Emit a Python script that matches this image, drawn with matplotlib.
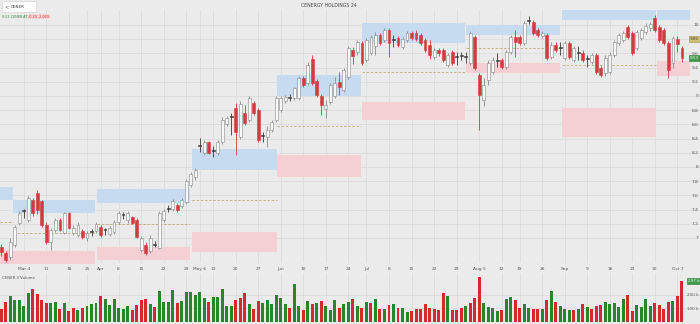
import numpy as np
import matplotlib.pyplot as plt
from matplotlib.patches import Rectangle

# CENERGY HOLDINGS daily candles, Feb 26 - Oct 8
opens = [6.87, 6.79, 6.73, 6.90, 7.21, 7.38, 7.25, 7.53, 7.63, 7.52,
         7.18, 6.94, 7.11, 7.25, 7.07, 7.35, 7.07, 7.04, 7.10, 7.00,
         7.08, 7.10, 7.15, 7.11, 7.06, 7.08, 7.23, 7.32, 7.26, 7.30,
         7.25, 6.83, 6.90, 6.82, 6.92, 6.86, 7.25, 7.41, 7.41, 7.46,
         7.45, 7.51, 7.75, 7.86, 8.31, 8.20, 8.35, 8.22, 8.20, 8.35,
         8.61, 8.71, 8.83, 8.42, 8.76, 8.66, 8.90, 8.80, 8.44, 8.42,
         8.52, 8.66, 8.80, 8.93, 8.99, 8.97, 8.97, 9.25, 9.18, 9.52,
         9.21, 9.00, 8.82, 8.92, 9.00, 9.20, 9.09, 9.27, 9.64, 9.62,
         9.75, 9.51, 9.61, 9.70, 9.86, 9.79, 9.93, 9.79, 9.82, 9.69,
         9.79, 9.89, 9.89, 9.86, 9.79, 9.72, 9.55, 9.64, 9.65, 9.44,
         9.62, 9.55, 9.56, 9.55, 9.47, 9.83, 9.30, 8.94, 9.23, 9.34,
         9.49, 9.51, 9.41, 9.62, 9.83, 9.83, 9.75, 10.06, 10.04, 9.93,
         9.85, 9.86, 9.55, 9.72, 9.68, 9.54, 9.75, 9.51, 9.60, 9.61,
         9.52, 9.48, 9.58, 9.39, 9.32, 9.34, 9.58, 9.75, 9.79, 9.97,
         9.89, 9.68, 9.82, 9.90, 9.95, 10.10, 9.97, 9.93, 9.75, 9.46,
         9.80, 9.68]
highs = [6.92, 6.82, 7.00, 7.18, 7.38, 7.41, 7.59, 7.56, 7.68, 7.54,
         7.22, 7.14, 7.28, 7.28, 7.37, 7.37, 7.18, 7.22, 7.13, 7.10,
         7.13, 7.23, 7.18, 7.14, 7.17, 7.25, 7.38, 7.37, 7.38, 7.31,
         7.28, 7.03, 6.94, 7.04, 6.96, 7.38, 7.41, 7.46, 7.55, 7.49,
         7.56, 7.83, 7.93, 7.99, 8.41, 8.38, 8.37, 8.30, 8.38, 8.70,
         8.72, 8.76, 8.90, 8.93, 8.87, 9.00, 8.93, 8.83, 8.49, 8.58,
         8.66, 9.00, 9.00, 9.01, 9.03, 9.13, 9.28, 9.28, 9.48, 9.58,
         9.24, 9.03, 8.94, 9.18, 9.27, 9.34, 9.40, 9.71, 9.69, 9.79,
         9.78, 9.82, 9.86, 9.90, 9.89, 9.96, 9.96, 9.86, 9.85, 9.83,
         9.92, 9.92, 9.93, 9.89, 9.82, 9.79, 9.68, 9.68, 9.68, 9.61,
         9.65, 9.62, 9.62, 9.62, 9.92, 9.86, 9.33, 9.25, 9.50, 9.55,
         9.61, 9.54, 9.65, 9.86, 9.93, 9.86, 10.06, 10.13, 10.07, 9.96,
         9.92, 9.89, 9.76, 9.76, 9.76, 9.78, 9.78, 9.71, 9.70, 9.64,
         9.58, 9.61, 9.61, 9.42, 9.58, 9.62, 9.79, 9.89, 9.92, 10.00,
         9.92, 9.93, 9.96, 10.02, 10.04, 10.14, 10.00, 9.96, 9.78, 9.85,
         9.84, 9.71]
lows = [6.75, 6.66, 6.69, 6.87, 7.18, 7.28, 7.22, 7.31, 7.34, 7.15,
        6.92, 6.83, 7.08, 7.10, 7.06, 7.13, 7.04, 7.01, 6.99, 6.96,
        7.03, 7.07, 7.01, 7.04, 7.03, 7.06, 7.20, 7.27, 7.21, 7.20,
        7.00, 6.80, 6.76, 6.79, 6.87, 6.84, 7.22, 7.37, 7.38, 7.37,
        7.42, 7.48, 7.72, 7.82, 8.21, 8.17, 8.18, 8.14, 8.17, 8.33,
        8.58, 8.45, 8.17, 8.40, 8.59, 8.63, 8.73, 8.35, 8.35, 8.28,
        8.49, 8.63, 8.77, 8.90, 8.93, 8.94, 8.94, 9.12, 9.15, 9.15,
        8.98, 8.73, 8.69, 8.89, 8.97, 9.01, 9.05, 9.24, 9.45, 9.58,
        9.43, 9.48, 9.58, 9.58, 9.72, 9.76, 9.55, 9.69, 9.69, 9.66,
        9.76, 9.79, 9.77, 9.72, 9.62, 9.52, 9.52, 9.56, 9.48, 9.41,
        9.43, 9.44, 9.50, 9.46, 9.44, 9.37, 8.52, 8.86, 9.16, 9.31,
        9.41, 9.38, 9.38, 9.59, 9.55, 9.72, 9.72, 10.01, 9.86, 9.83,
        9.82, 9.51, 9.52, 9.62, 9.58, 9.51, 9.52, 9.48, 9.51, 9.48,
        9.41, 9.45, 9.31, 9.27, 9.28, 9.31, 9.55, 9.72, 9.76, 9.80,
        9.58, 9.65, 9.79, 9.87, 9.92, 9.90, 9.76, 9.72, 9.25, 9.40,
        9.62, 9.48]
closes = [6.80, 6.69, 6.94, 7.15, 7.35, 7.39, 7.56, 7.35, 7.39, 7.18,
          6.94, 7.11, 7.25, 7.11, 7.35, 7.14, 7.14, 7.18, 7.01, 7.07,
          7.09, 7.20, 7.04, 7.11, 7.14, 7.23, 7.35, 7.33, 7.35, 7.21,
          7.01, 7.00, 6.79, 7.00, 6.90, 7.35, 7.38, 7.42, 7.52, 7.39,
          7.54, 7.80, 7.90, 7.96, 8.30, 8.35, 8.20, 8.23, 8.35, 8.66,
          8.69, 8.72, 8.49, 8.88, 8.62, 8.97, 8.76, 8.38, 8.45, 8.52,
          8.63, 8.97, 8.97, 8.98, 8.97, 9.11, 9.25, 9.15, 9.44, 9.18,
          9.01, 8.87, 8.87, 9.15, 9.18, 9.13, 9.37, 9.68, 9.56, 9.76,
          9.47, 9.79, 9.83, 9.86, 9.75, 9.93, 9.75, 9.80, 9.72, 9.80,
          9.89, 9.82, 9.80, 9.75, 9.65, 9.58, 9.65, 9.60, 9.51, 9.58,
          9.46, 9.56, 9.57, 9.56, 9.89, 9.40, 9.01, 9.15, 9.46, 9.51,
          9.50, 9.41, 9.62, 9.83, 9.76, 9.75, 10.03, 10.07, 9.89, 9.86,
          9.89, 9.54, 9.72, 9.65, 9.69, 9.75, 9.55, 9.68, 9.61, 9.51,
          9.53, 9.58, 9.34, 9.30, 9.54, 9.58, 9.76, 9.86, 9.89, 9.83,
          9.61, 9.90, 9.93, 9.99, 10.01, 9.93, 9.79, 9.75, 9.37, 9.82,
          9.73, 9.53]

# volume in thousands, and bar colour as drawn (g = up, r = down)
volumes = [97, 146, 190, 158, 161, 115, 212, 239, 204, 158,
           139, 139, 146, 93, 139, 80, 102, 90, 102, 117,
           129, 141, 190, 168, 122, 166, 102, 95, 115, 85,
           122, 158, 166, 129, 110, 226, 146, 146, 231, 139,
           153, 219, 219, 199, 219, 177, 146, 183, 183, 243,
           117, 115, 158, 175, 212, 129, 97, 153, 141, 158,
           129, 195, 177, 134, 104, 275, 117, 85, 151, 129,
           141, 153, 115, 85, 158, 104, 134, 146, 166, 117,
           102, 146, 141, 170, 93, 97, 122, 134, 102, 102,
           73, 78, 93, 93, 134, 102, 93, 85, 212, 188,
           85, 85, 104, 117, 139, 175, 329, 141, 110, 104,
           78, 90, 166, 183, 158, 102, 129, 102, 97, 97,
           97, 158, 226, 146, 117, 93, 90, 90, 97, 134,
           110, 97, 115, 126, 146, 129, 139, 110, 170, 199,
           80, 122, 110, 170, 115, 141, 122, 97, 146, 153,
           190, 297]
vol_dir = ("rrgggggrrrrggrgrrgrgggrggggggrrrrgrggggrggggggrggggg"
           "rrrgrrggggggrggrgrgrgggrgg"
           "rgrgrgrgrgrggrrrrrrrrgrrrgr"
           "rr"
           "ggggrggrrggrrgrgrgggrgrgrrrgggggrrggggrrrrgrr")

# monthly zones: start / end (candle index), blue band, pink band, dashed mid line
zone_start = [-0.3, 2.6, 21.2, 42.3, 61.2, 80.0, 103.0, 124.4, 145.4]
zone_end = [2.5, 20.8, 41.9, 61.1, 79.9, 102.8, 123.9, 145.2, 152.8]
blue_lo = [7.54, 7.35, 7.49, 7.96, 9.00, 9.75, 9.86, 10.07, 10.07]
blue_hi = [7.72, 7.54, 7.69, 8.25, 9.30, 10.03, 10.00, 10.25, 10.25]
pink_lo = [6.62, 6.62, 6.69, 6.80, 7.86, 8.66, 9.32, 8.42, 9.28]
pink_hi = [6.83, 6.82, 6.87, 7.08, 8.17, 8.92, 9.46, 8.83, 9.49]
mid_line = [7.23, 7.07, 7.20, 7.54, 8.58, 9.34, 9.68, 9.44, np.nan]

tick_idx = [5, 10, 15, 19, 22, 26, 31, 36, 41, 44, 47, 52, 57, 62, 67, 72,
            77, 81, 86, 91, 96, 101, 106, 111, 115, 120, 125, 130, 135, 140,
            145, 150]
tick_lab = ["Mar 4", "11", "18", "25", "Apr", "8", "15", "22", "29", "May 6",
            "13", "20", "27", "Jun", "10", "17", "24", "Jul", "8", "15", "22",
            "29", "Aug 5", "12", "19", "26", "Sep", "9", "16", "23", "30",
            "Oct 7"]
price_ticks = [7.0, 7.2, 7.4, 7.6, 7.8, 8.0, 8.2, 8.4, 8.6, 8.8, 9.0, 9.2,
               9.4, 9.6, 9.8, 10.0]
vol_ticks = [100, 200]

title = "CENERGY HOLDINGS 24"
ticker = "CENER"
ref_level = 9.80

BG = "#ebebeb"
GRID = "#d9d9d9"
UP_EDGE = "#8a8a8a"
DOWN = "#d33a40"
VGREEN = "#27852b"
VRED = "#d42a2f"

fig = plt.figure(figsize=(7, 3.24), dpi=100, facecolor=BG)
axp = fig.add_axes([0, 61 / 324, 1, 253 / 324], facecolor=BG)
axv = fig.add_axes([0, 2 / 324, 1, 49 / 324], facecolor=BG, sharex=axp)

x = np.arange(len(closes))
o = np.array(opens)
c = np.array(closes)
h = np.array(highs)
l = np.array(lows)

for ax in (axp, axv):
    for s in ax.spines.values():
        s.set_visible(False)
    ax.set_xticks(tick_idx)
    ax.grid(True, color=GRID, lw=0.5)
    ax.set_axisbelow(True)

# zones
for i in range(len(zone_start)):
    xs = [zone_start[i], zone_end[i]]
    axp.fill_between(xs, blue_lo[i], blue_hi[i], color="#c6dbf0", lw=0, zorder=1)
    axp.fill_between(xs, pink_lo[i], pink_hi[i], color="#f4d0d4", lw=0, zorder=1)
    axp.plot(xs, [mid_line[i]] * 2, color="#bcae72", lw=0.6, ls=(0, (3, 2)), zorder=1.5)

# candles
up = c > o
flat = np.abs(c - o) < 0.025
body_lo = np.minimum(o, c)
body_h = np.maximum(np.abs(c - o), 0.012)
wick_col = np.where(flat, "#3a3a3a", np.where(up, UP_EDGE, DOWN))
face = np.where(flat, "#3a3a3a", np.where(up, "#f7f7f7", DOWN))
edge = np.where(flat, "#3a3a3a", np.where(up, UP_EDGE, DOWN))
axp.vlines(x, l, h, colors=wick_col, lw=0.6, zorder=2)
axp.bar(x, body_h, bottom=body_lo, width=0.64, color=face, edgecolor=edge,
        linewidth=0.4, zorder=3)

axp.set_xlim(-0.3, 155.0)
axp.set_ylim(6.648, 10.21)
axp.set_yticks(price_ticks)
axp.set_yticklabels([f"{p:g}" for p in price_ticks])
axp.yaxis.tick_right()
axp.tick_params(axis="y", length=0, pad=-1, labelsize=3.2, labelcolor="#555555")
plt.setp(axp.get_yticklabels(), ha="right")
axp.set_xticklabels(tick_lab)
axp.tick_params(axis="x", length=0, pad=2.6, labelsize=3.2, labelcolor="#555555")

# price tags on the right
axp.text(0.999, ref_level, f"{ref_level:.2f}", transform=axp.get_yaxis_transform(),
         ha="right", va="center", fontsize=3, color="#4a4220", zorder=6,
         bbox=dict(boxstyle="square,pad=0.25", fc="#cfc07a", ec="#9a8c45", lw=0.4))
axp.text(0.999, closes[-1], f"{closes[-1]:.2f}", transform=axp.get_yaxis_transform(),
         ha="right", va="center", fontsize=3, color="white", zorder=6,
         bbox=dict(boxstyle="square,pad=0.25", fc="#3f9a4a", ec="#2c7a36", lw=0.4))

# volume
vcol = [VGREEN if d == "g" else VRED for d in vol_dir]
axv.bar(x, volumes, width=0.66, color=vcol, zorder=2)
axv.set_ylim(0, 358)
axv.set_yticks(vol_ticks)
axv.set_yticklabels([f"{v} k" for v in vol_ticks])
axv.yaxis.tick_right()
axv.tick_params(axis="y", length=0, pad=-1, labelsize=3, labelcolor="#555555")
plt.setp(axv.get_yticklabels(), ha="right")
axv.tick_params(axis="x", length=0, labelbottom=False)
axv.text(0.999, volumes[-1], f"{volumes[-1]} k", transform=axv.get_yaxis_transform(),
         ha="right", va="center", fontsize=3, color="white", zorder=6,
         bbox=dict(boxstyle="square,pad=0.25", fc="#3f9a4a", ec="#2c7a36", lw=0.4))
axv.text(0.003, 0.93, f"{ticker}.3 Volume", transform=axv.transAxes, fontsize=2.8,
         color="#555555", va="top")

# header
fig.text(0.47, 0.982, title, ha="center", va="center", fontsize=3.3, color="#444444")
fig.patches.append(Rectangle((0.003, 0.962), 0.048, 0.034, transform=fig.transFigure,
                             fc="white", ec="#cccccc", lw=0.4))
fig.text(0.006, 0.979, "<", fontsize=3.5, color="#555555", va="center")
fig.text(0.016, 0.979, ticker, fontsize=3, color="#333333", va="center")
chg = closes[-1] - closes[-2]
fig.text(0.003, 0.948, f"{closes[-1]:.2f} {ticker}.AT", fontsize=2.4, color="#2e8a3a",
         va="center")
fig.text(0.040, 0.948, f"{chg:+.2f} {chg / closes[-2] * 100:+.2f}%", fontsize=2.4,
         color="#d02b30", va="center",
         bbox=dict(boxstyle="square,pad=0.15", fc="#f6d4d6", ec="none"))

fig.savefig("out.png", dpi=100, facecolor=BG)
